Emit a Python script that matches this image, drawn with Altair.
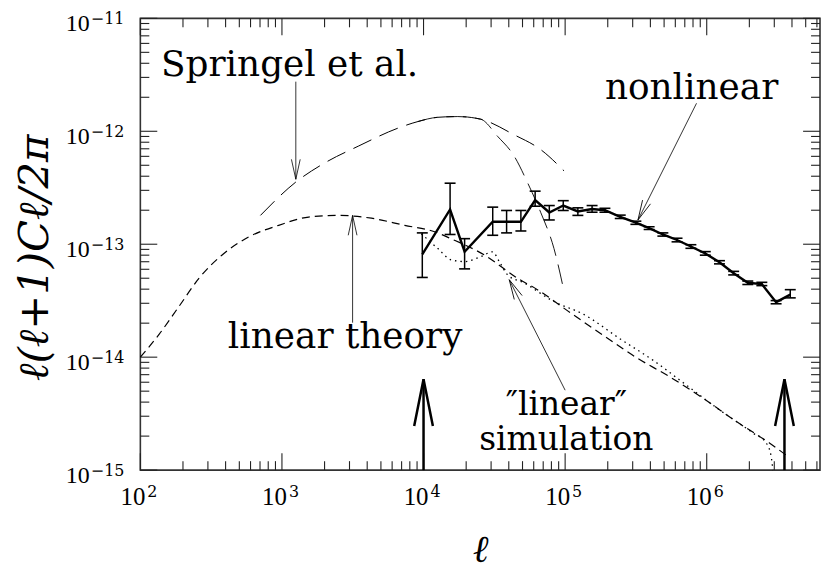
import altair as alt
import pandas as pd

# ---------------- data ----------------
# linear theory (short dashed)
lin_ell = [100, 136, 188, 260, 378, 583, 948, 1542, 2500, 4285, 7362, 1.197e4, 1.56e4,
           2.685e4, 4.60e4, 6.37e4, 1.09e5, 1.875e5, 3.21e5, 5.51e5, 9.46e5, 1.62e6, 2.77e6, 3.84e6]
lin_c = [1.0e-14, 1.60e-14, 2.83e-14, 5.01e-14, 8.04e-14, 1.16e-13, 1.47e-13, 1.74e-13, 1.80e-13,
         1.70e-13, 1.47e-13, 1.29e-13, 1.12e-13, 8.04e-14, 5.01e-14, 3.96e-14, 2.47e-14, 1.55e-14,
         9.86e-15, 6.67e-15, 4.32e-15, 2.69e-15, 1.74e-15, 1.29e-15]

# Springel et al. (long dashed), outer and inner branch
spr_ell = [705, 1242, 2018, 3459, 6607, 9141, 1.262e4, 1.746e4, 2.529e4, 4.365e4, 6.714e4, 9.82e4]
spr_c = [1.80e-13, 3.52e-13, 5.27e-13, 7.38e-13, 1.067e-12, 1.22e-12, 1.33e-12, 1.35e-12,
         1.28e-12, 9.31e-13, 6.89e-13, 4.46e-13]
spr2_ell = [9141, 1.262e4, 1.746e4, 2.529e4, 3.334e4, 4.365e4, 5.42e4, 6.714e4, 8.34e4, 9.82e4]
spr2_c = [1.22e-12, 1.33e-12, 1.35e-12, 1.28e-12, 9.02e-13, 6.03e-13, 3.52e-13, 1.92e-13,
          9.16e-14, 3.83e-14]

# "linear" simulation (dotted)
sim_ell = [9638, 1.262e4, 1.567e4, 1.945e4, 2.541e4, 3.076e4, 3.428e4, 3.917e4, 5.14e4, 8.24e4,
           1.355e5, 2.449e5, 4.207e5, 7.21e5, 1.236e6, 2.123e6, 2.63e6, 2.85e6, 2.93e6]
sim_c = [1.24e-13, 9.16e-14, 7.26e-14, 7.02e-14, 7.76e-14, 8.57e-14, 7.02e-14, 5.36e-14, 4.53e-14,
         3.13e-14, 2.39e-14, 1.45e-14, 9.33e-15, 5.64e-15, 3.40e-15, 2.13e-15, 1.74e-15, 1.33e-15, 1.0e-15]

# nonlinear simulation with error bars
nl_ell = [9.8e3, 1.54e4, 1.95e4, 3.08e4, 3.86e4, 4.87e4, 6.14e4, 7.73e4, 9.7e4, 1.23e5, 1.55e5,
          1.91e5, 2.45e5, 3.16e5, 3.92e5, 4.9e5, 6.17e5, 7.73e5, 9.77e5, 1.23e6, 1.55e6, 1.95e6,
          2.45e6, 3.09e6, 3.89e6]
nl_c = [8.13e-14, 2.03e-13, 8.58e-14, 1.58e-13, 1.58e-13, 1.58e-13, 2.46e-13, 1.91e-13, 2.20e-13,
        1.95e-13, 2.05e-13, 2.00e-13, 1.75e-13, 1.55e-13, 1.39e-13, 1.22e-13, 1.09e-13, 9.55e-14,
        8.29e-14, 6.92e-14, 5.54e-14, 4.56e-14, 4.44e-14, 3.07e-14, 3.58e-14]
nl_lo = [5.08e-14, 1.22e-13, 6.05e-14, 1.20e-13, 1.26e-13, 1.31e-13, 2.17e-13, 1.64e-13, 1.99e-13,
         1.80e-13, 1.92e-13, 1.92e-13, 1.69e-13, 1.50e-13, 1.35e-13, 1.18e-13, 1.05e-13, 9.2e-14,
         8.0e-14, 6.7e-14, 5.35e-14, 4.4e-14, 4.3e-14, 2.97e-14, 3.35e-14]
nl_hi = [1.26e-13, 3.47e-13, 1.12e-13, 2.13e-13, 1.99e-13, 1.99e-13, 2.95e-13, 2.20e-13, 2.43e-13,
         2.10e-13, 2.20e-13, 2.08e-13, 1.81e-13, 1.60e-13, 1.43e-13, 1.26e-13, 1.13e-13, 9.9e-14,
         8.6e-14, 7.15e-14, 5.75e-14, 4.72e-14, 4.6e-14, 3.17e-14, 3.96e-14]

# annotations
txt_left = ["Springel et al.", "linear theory"]
txt_left_x = [140, 415]
txt_left_y = [3.06e-12, 1.21e-14]
txt_right = ["nonlinear"]
txt_right_x = [3.2e6]
txt_right_y = [1.95e-12]
txt_center = ["\u2033linear\u2033", "simulation"]
txt_center_x = [1.02e5, 1.02e5]
txt_center_y = [3.08e-15, 1.52e-15]

arr_x1 = [1253, 3155, 8.47e5, 1.0e5]
arr_y1 = [2.75e-12, 2.02e-14, 1.77e-12, 5.1e-15]
arr_x2 = [1253, 3155, 3.27e5, 4.03e4]
arr_y2 = [3.76e-13, 1.80e-13, 1.64e-13, 4.85e-14]
arr_angle = [180, 0, 205.4, 333.3]

big_x = [1.0e4, 3.54e6]
big_y1 = [1e-15, 1e-15]
big_y2 = [6.37e-15, 6.37e-15]
big_angle = [0, 0]

# axes: ticks and labels
x_major = [1e2, 1e3, 1e4, 1e5, 1e6]
x_base = ["10", "10", "10", "10", "10"]
x_exp = ["2", "3", "4", "5", "6"]
x_minor = [k * 10 ** e for e in range(2, 7) for k in range(2, 10) if k * 10 ** e < 6.3e6]
y_major = [1e-15, 1e-14, 1e-13, 1e-12, 1e-11]
y_base = ["10", "10", "10", "10", "10"]
y_exp = ["\u221215", "\u221214", "\u221213", "\u221212", "\u221211"]
y_minor = [k * 10.0 ** e for e in range(-15, -11) for k in range(2, 10)]

# ---------------- chart ----------------
W, H = 683, 454
xscale = alt.Scale(type="log", domain=[100, 6.31e6], nice=False)
yscale = alt.Scale(type="log", domain=[1e-15, 1e-11], nice=False)
SERIF = "DejaVu Serif"
LAB = "Liberation Serif"

x_axis = alt.Axis(values=x_major, ticks=False, labels=False, domain=False, grid=False,
                  title="\u2113", titleFont=SERIF, titleFontStyle="italic", titleFontSize=38,
                  titleFontWeight="normal", titleColor="black", titleY=92,
                  titleBaseline="alphabetic")
y_axis = alt.Axis(values=y_major, ticks=False, labels=False, domain=False, grid=False,
                  title="\u2113(\u2113+1)C\u2113/2\u03c0", titleFont=SERIF,
                  titleFontStyle="italic", titleFontSize=42, titleFontWeight="normal",
                  titleColor="black", titleAngle=270, titleX=-93, titleY=240,
                  titleAlign="center", titleBaseline="alphabetic")


def X(f):
    return alt.X(f, type="quantitative", scale=xscale, axis=x_axis)


def Y(f):
    return alt.Y(f, type="quantitative", scale=yscale, axis=y_axis)


def curve(ell, c, dash, width, interp="monotone"):
    df = pd.DataFrame({"ell": ell, "c": c})
    return alt.Chart(df).mark_line(color="black", strokeWidth=width, strokeDash=dash,
                                   interpolate=interp).encode(x=X("ell"), y=Y("c"))


nl_df = pd.DataFrame({"ell": nl_ell, "c": nl_c, "lo": nl_lo, "hi": nl_hi})
caps_df = pd.DataFrame({"ell": nl_ell + nl_ell, "c": nl_lo + nl_hi})

nl_line = alt.Chart(nl_df).mark_line(color="black", strokeWidth=2.4).encode(
    x=X("ell"), y=Y("c"))
nl_err = alt.Chart(nl_df).mark_rule(color="black", strokeWidth=1.5).encode(
    x=X("ell"), y=Y("lo"), y2="hi")
nl_caps = alt.Chart(caps_df).mark_tick(color="black", orient="horizontal", size=11,
                                       thickness=1.6, opacity=1).encode(x=X("ell"), y=Y("c"))

lin_line = curve(lin_ell, lin_c, [8, 5], 1.2)
spr_line = curve(spr_ell, spr_c, [20, 9], 1.0)
spr2_line = curve(spr2_ell, spr2_c, [20, 9], 0.9)
sim_line = curve(sim_ell, sim_c, [1.5, 4], 1.3)


def text_layer(t, x, y, align, size=35):
    df = pd.DataFrame({"t": t, "x": x, "y": y})
    return alt.Chart(df).mark_text(font=SERIF, fontSize=size, align=align, baseline="alphabetic",
                                   color="black").encode(x=X("x"), y=Y("y"), text="t:N")


texts = [text_layer(txt_left, txt_left_x, txt_left_y, "left", 36),
         text_layer(txt_right, txt_right_x, txt_right_y, "right", 36),
         text_layer(txt_center, txt_center_x, txt_center_y, "center", 33)]

arr_df = pd.DataFrame({"x1": arr_x1, "y1": arr_y1, "x2": arr_x2, "y2": arr_y2, "a": arr_angle})
arr_lines = alt.Chart(arr_df).mark_rule(color="black", strokeWidth=0.8).encode(
    x=X("x1"), y=Y("y1"), x2="x2", y2="y2")
arr_heads = alt.Chart(arr_df).mark_point(shape="M-0.22,1L0,0L0.22,1", filled=False, size=1600,
                                         strokeWidth=0.8, color="black", opacity=1).encode(
    x=X("x2"), y=Y("y2"), angle=alt.Angle("a:Q", scale=None))

big_df = pd.DataFrame({"x": big_x, "y1": big_y1, "y2": big_y2, "a": big_angle})
big_lines = alt.Chart(big_df).mark_rule(color="black", strokeWidth=2.5).encode(
    x=X("x"), y=Y("y1"), y2="y2")
big_heads = alt.Chart(big_df).mark_point(shape="M-0.2,1L0,0L0.2,1", filled=False, size=8836,
                                         strokeWidth=2.5, color="black", opacity=1).encode(
    x=X("x"), y=Y("y2"), angle=alt.Angle("a:Q", scale=None))


def ticks(vals, channel, side, length):
    df = pd.DataFrame({"v": vals})
    base = alt.Chart(df).mark_rule(color="#222", strokeWidth=1.1)
    if channel == "x":
        enc = dict(x=X("v"))
        if side == "bottom":
            enc.update(y=alt.value(H), y2=alt.value(H - length))
        else:
            enc.update(y=alt.value(0), y2=alt.value(length))
    else:
        enc = dict(y=Y("v"))
        if side == "left":
            enc.update(x=alt.value(0), x2=alt.value(length))
        else:
            enc.update(x=alt.value(W), x2=alt.value(W - length))
    return base.encode(**enc)


tick_layers = []
for side in ["bottom", "top"]:
    tick_layers.append(ticks(x_major, "x", side, 17))
    tick_layers.append(ticks(x_minor, "x", side, 9))
for side in ["left", "right"]:
    tick_layers.append(ticks(y_major, "y", side, 17))
    tick_layers.append(ticks(y_minor, "y", side, 9))

# tick labels: "10" plus a raised exponent
xl_df = pd.DataFrame({"v": x_major, "b": x_base, "e": x_exp})
yl_df = pd.DataFrame({"v": y_major, "b": y_base, "e": y_exp})
xl_base = alt.Chart(xl_df).mark_text(font=LAB, fontSize=25, align="right", baseline="alphabetic",
                                     dx=5, color="black").encode(
    x=X("v"), y=alt.value(H + 35), text="b:N")
xl_exp = alt.Chart(xl_df).mark_text(font=SERIF, fontSize=16, align="left", baseline="alphabetic",
                                    dx=7, color="black").encode(
    x=X("v"), y=alt.value(H + 27), text="e:N")
yl_base = alt.Chart(yl_df).mark_text(font=LAB, fontSize=24, align="right", baseline="alphabetic",
                                     dy=13, color="black").encode(
    y=Y("v"), x=alt.value(-51), text="b:N")
yl_exp = alt.Chart(yl_df).mark_text(font=SERIF, fontSize=16, align="right", baseline="alphabetic",
                                    dy=6, color="black").encode(
    y=Y("v"), x=alt.value(-16), text="e:N")

chart = alt.layer(
    nl_line, *tick_layers, lin_line, spr_line, spr2_line, sim_line, nl_err, nl_caps,
    arr_lines, arr_heads, big_lines, big_heads, *texts, xl_base, xl_exp, yl_base, yl_exp
).properties(
    width=W, height=H,
    padding={"left": 133, "top": 9, "right": 2, "bottom": 101},
    autosize=alt.AutoSizeParams(type="none"),
    background="white",
).configure_view(stroke="#333", strokeWidth=1.6)

chart.save("out.html", embed_options={"renderer": "svg", "actions": False})
